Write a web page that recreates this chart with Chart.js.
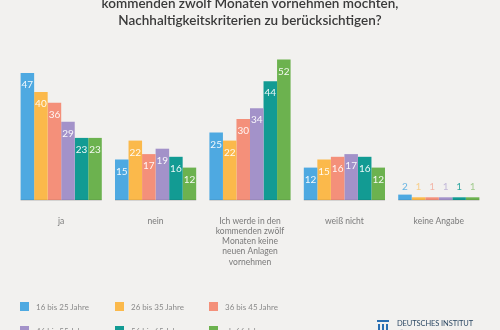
<!DOCTYPE html>
<html lang="de">
<head>
<meta charset="utf-8">
<script src="https://cdn.jsdelivr.net/npm/chart.js@4/dist/chart.umd.min.js"></script>
<style>
  html, body { margin: 0; padding: 0; background: #f2f1ef; }
  #wrap { position: relative; width: 500px; height: 330px; overflow: hidden; font-family: Lato, 'Open Sans', sans-serif; }
  #chart { position: absolute; left: 0; top: 0; }
  .title { position: absolute; left: 0; width: 500px; top: -5px; text-align: center;
           font-size: 13.5px; line-height: 17px; color: #3a3a3a; font-weight: 600; }
  .legend { position: absolute; left: 0; top: 302px; width: 360px; }
  .legend .item { position: absolute; font-size: 8px; color: #8a8a8a; white-space: nowrap; line-height: 10px; }
  .legend .sw { position: absolute; left: 0; top: 0; width: 9px; height: 9px; }
  .legend .txt { position: absolute; left: 16px; top: 0; }
  .logo { position: absolute; left: 377px; top: 320px; }
  .logo .bar { position: absolute; left: 0; top: 0; width: 12px; height: 2px; background: #2a6fb2; }
  .logo .col { position: absolute; top: 4px; width: 2px; height: 10px; background: #2a6fb2; }
  .logo .name { position: absolute; left: 20px; top: -1px; font-size: 7.5px; color: #2c4863; letter-spacing: -0.1px; white-space: nowrap; }
  .logo .sub { position: absolute; left: 20px; top: 9px; font-size: 5px; color: #6a7f95; white-space: nowrap; }
</style>
</head>
<body>
<div id="wrap">
  <canvas id="chart" width="500" height="330"></canvas>
  <div class="title">kommenden zwölf Monaten vornehmen möchten,<br>Nachhaltigkeitskriterien zu berücksichtigen?</div>
  <div class="legend" id="legend"></div>
  <div class="logo">
    <div class="bar"></div>
    <div class="col" style="left:1px"></div>
    <div class="col" style="left:5px"></div>
    <div class="col" style="left:9px"></div>
    <div class="name">DEUTSCHES INSTITUT</div>
    <div class="sub">FÜR VERTRAUEN UND SICHERHEIT IM INTERNET</div>
  </div>
</div>
<script>
// answer categories (multi-line labels as arrays)
const categories = [
    'ja',
    'nein',
    ['Ich werde in den', 'kommenden zwölf', 'Monaten keine', 'neuen Anlagen', 'vornehmen'],
    'weiß nicht',
    'keine Angabe'
];

// age groups
const ageGroups = ['16 bis 25 Jahre', '26 bis 35 Jahre', '36 bis 45 Jahre', '46 bis 55 Jahre', '56 bis 65 Jahre', 'ab 66 Jahre'];
const ageColors = ['#4ea9e1', '#fbb94b', '#f4907a', '#a392c9', '#129b93', '#6cb24f'];

// percentages per age group, in category order
const age16to25 = [47, 15, 25, 12, 2];
const age26to35 = [40, 22, 22, 15, 1];
const age36to45 = [36, 17, 30, 16, 1];
const age46to55 = [29, 19, 34, 17, 1];
const age56to65 = [23, 16, 44, 16, 1];
const age66plus = [23, 12, 52, 12, 1];

const seriesValues = [age16to25, age26to35, age36to45, age46to55, age56to65, age66plus];

// legend, three columns aligned with the first groups
const legendCols = [20, 115, 209];
const legendEl = document.getElementById('legend');
ageGroups.forEach(function (name, i) {
    const item = document.createElement('div');
    item.className = 'item';
    item.style.left = legendCols[i % 3] + 'px';
    item.style.top = (Math.floor(i / 3) * 24) + 'px';
    item.innerHTML = '<span class="sw" style="background:' + ageColors[i] + '"></span><span class="txt">' + name + '</span>';
    legendEl.appendChild(item);
});

// value labels: white inside the bar, coloured above very short bars
const valueLabels = {
    id: 'valueLabels',
    afterDatasetsDraw(chart) {
        const ctx = chart.ctx;
        ctx.save();
        ctx.textAlign = 'center';
        ctx.textBaseline = 'middle';
        ctx.font = '10px Lato, sans-serif';
        chart.data.datasets.forEach(function (ds, di) {
            chart.getDatasetMeta(di).data.forEach(function (bar, i) {
                const v = ds.data[i];
                if (v < 5) {
                    ctx.fillStyle = ds.backgroundColor;
                    ctx.globalAlpha = di === 0 || di === 4 ? 0.85 : 0.6;
                    ctx.fillText(v, bar.x, 187);
                    ctx.globalAlpha = 1;
                } else {
                    ctx.fillStyle = 'rgba(255,255,255,0.92)';
                    ctx.fillText(v, bar.x, bar.y + 12);
                }
            });
        });
        ctx.restore();
    }
};

// faint base line under every group
const groupBase = {
    id: 'groupBase',
    afterDatasetsDraw(chart) {
        const ctx = chart.ctx;
        const first = chart.getDatasetMeta(0).data;
        const last = chart.getDatasetMeta(chart.data.datasets.length - 1).data;
        const y = chart.scales.y.getPixelForValue(0);
        ctx.save();
        ctx.fillStyle = 'rgba(0,0,0,0.12)';
        first.forEach(function (bar, i) {
            const l = bar.x - bar.width / 2;
            const r = last[i].x + last[i].width / 2;
            ctx.fillRect(l, y - 0.5, r - l, 1.5);
        });
        ctx.restore();
    }
};

new Chart(document.getElementById('chart'), {
    type: 'bar',
    data: {
        labels: categories,
        datasets: ageGroups.map(function (name, i) {
            return {
                label: name,
                data: seriesValues[i],
                backgroundColor: ageColors[i],
                borderWidth: 0,
                barPercentage: 1,
                categoryPercentage: 0.86
            };
        })
    },
    options: {
        responsive: false,
        animation: false,
        layout: { padding: { left: 14, right: 14, top: 38, bottom: 30 } },
        plugins: {
            legend: { display: false },
            tooltip: { enabled: false }
        },
        scales: {
            x: {
                grid: { display: false },
                border: { display: false },
                ticks: {
                    padding: 8,
                    maxRotation: 0,
                    autoSkip: false,
                    font: { family: 'Lato, sans-serif', size: 8.5 },
                    color: '#7a7a7a',
                    lineHeight: 1.38
                },
                afterFit: function (scale) { scale.height = 100; }
            },
            y: {
                display: false,
                min: 0,
                max: 60
            }
        }
    },
    plugins: [valueLabels, groupBase]
});
</script>
</body>
</html>
